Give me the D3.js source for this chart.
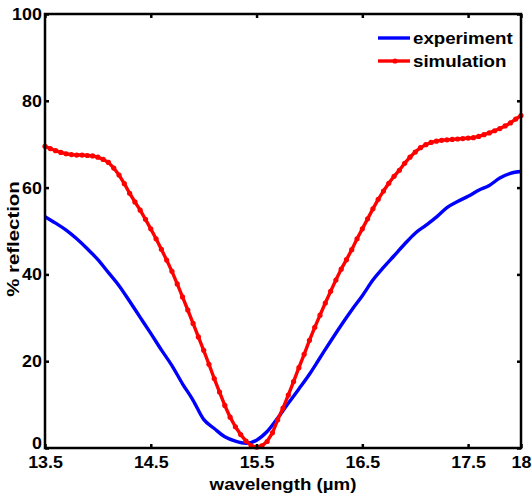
<!DOCTYPE html>
<html><head><meta charset="utf-8">
<script src="https://cdn.jsdelivr.net/npm/d3@7"></script>
<style>body{margin:0;background:#fff}svg{display:block}</style>
</head><body>
<svg id="c" width="532" height="498"></svg>
<script>
const xTicks = [13.5, 14.5, 15.5, 16.5, 17.5, 18];
const xTickLabels = ["13.5", "14.5", "15.5", "16.5", "17.5", "18"];
const yTicks = [0, 20, 40, 60, 80, 100];
const seriesNames = ["experiment", "simulation"];

const expWavelength = [13.5,13.6,13.7,13.8,13.9,14.0,14.1,14.2,14.3,14.4,14.5,14.6,14.7,14.8,14.9,15.0,15.1,15.2,15.3,15.4,15.5,15.6,15.7,15.8,15.9,16.0,16.1,16.2,16.3,16.4,16.5,16.6,16.7,16.8,16.9,17.0,17.1,17.2,17.3,17.4,17.5,17.6,17.7,17.8,17.9,18.0];
const expReflection = [53.3,51.8,50.2,48.2,45.9,43.4,40.4,37.4,33.8,30.1,26.4,22.6,19.0,14.8,11.0,6.6,4.5,2.6,1.6,1.1,1.8,3.8,6.9,10.3,13.6,17.0,20.8,24.6,28.3,31.8,35.1,38.7,41.6,44.3,47.0,49.5,51.3,53.2,55.4,56.8,58.0,59.4,60.5,62.2,63.3,63.7];

const simWavelength = [13.50,13.55,13.60,13.65,13.70,13.75,13.80,13.85,13.90,13.95,14.00,14.05,14.10,14.15,14.20,14.25,14.30,14.35,14.40,14.45,14.50,14.55,14.60,14.65,14.70,14.75,14.80,14.85,14.90,14.95,15.00,15.05,15.10,15.15,15.20,15.25,15.30,15.35,15.40,15.45,15.50,15.55,15.60,15.65,15.70,15.75,15.80,15.85,15.90,15.95,16.00,16.05,16.10,16.15,16.20,16.25,16.30,16.35,16.40,16.45,16.50,16.55,16.60,16.65,16.70,16.75,16.80,16.85,16.90,16.95,17.00,17.05,17.10,17.15,17.20,17.25,17.30,17.35,17.40,17.45,17.50,17.55,17.60,17.65,17.70,17.75,17.80,17.85,17.90,17.95,18.00];
const simReflection = [69.5,69.0,68.5,68.1,67.8,67.6,67.5,67.5,67.4,67.3,67.0,66.5,65.8,64.5,62.9,60.9,58.7,56.7,54.8,52.7,50.5,48.2,45.8,43.3,40.7,37.8,34.8,31.8,28.7,25.6,22.5,19.3,16.0,12.9,9.8,7.1,4.9,3.1,1.6,0.5,0.2,0.5,1.5,3.5,6.5,9.2,12.2,15.3,18.5,21.6,24.8,27.8,30.6,33.4,36.1,38.7,41.2,43.4,45.7,48.2,50.5,52.8,55.1,57.3,59.2,61.0,62.6,64.0,65.6,67.0,68.2,69.2,69.9,70.4,70.7,70.9,71.0,71.1,71.2,71.3,71.4,71.5,71.8,72.2,72.6,73.1,73.6,74.2,74.9,75.8,76.6];

const L = 45, R = 521, T = 14, B = 448;
const FONT = "'Liberation Sans', Arial, sans-serif";
const FS = 17;
const svg = d3.select("#c");
const x = d3.scaleLinear().domain([13.5, 18]).range([L, R]);
const y = d3.scaleLinear().domain([0, 100]).range([B, T]);

const expData = expWavelength.map((w, i) => [w, expReflection[i]]);
const simData = simWavelength.map((w, i) => [w, simReflection[i]]);

const plot = svg.append("g");
plot.append("path").datum(expData)
  .attr("fill", "none").attr("stroke", "#0000ff").attr("stroke-width", 3.4)
  .attr("stroke-linejoin", "round")
  .attr("d", d3.line().x(d => x(d[0])).y(d => y(d[1])).curve(d3.curveMonotoneX));
plot.append("path").datum(simData)
  .attr("fill", "none").attr("stroke", "#ff0000").attr("stroke-width", 3.4)
  .attr("stroke-linejoin", "round")
  .attr("d", d3.line().x(d => x(d[0])).y(d => y(d[1])));
plot.selectAll("circle.m").data(simData).enter().append("circle")
  .attr("class", "m").attr("cx", d => x(d[0])).attr("cy", d => y(d[1]))
  .attr("r", 2.6).attr("fill", "#ff0000");

function styleAxis(g) {
  g.select(".domain").remove();
  g.selectAll("line").attr("stroke", "#000").attr("stroke-width", 2.5);
  g.selectAll("text").attr("font-family", FONT).attr("font-size", FS)
    .attr("font-weight", "bold").attr("fill", "#000");
}
svg.append("g").attr("transform", `translate(0,${B})`)
  .call(d3.axisBottom(x).tickValues(xTicks).tickFormat((d, i) => xTickLabels[i]).tickSize(-4).tickPadding(8))
  .call(styleAxis)
  .call(g => g.selectAll("text").attr("transform", "scale(1.05,1)"));
svg.append("g").attr("transform", `translate(0,${T})`)
  .call(d3.axisTop(x).tickValues(xTicks).tickFormat("").tickSize(-4))
  .call(styleAxis);
svg.append("g").attr("transform", `translate(${L},0)`)
  .call(d3.axisLeft(y).tickValues(yTicks).tickSize(-4).tickPadding(3))
  .call(styleAxis)
  .call(g => g.selectAll("text").attr("transform", "scale(1.05,1)")
    .attr("dy", d => d === 0 ? "0.05em" : "0.32em"));
svg.append("g").attr("transform", `translate(${R},0)`)
  .call(d3.axisRight(y).tickValues(yTicks).tickFormat("").tickSize(-4))
  .call(styleAxis);

svg.append("rect").attr("x", L).attr("y", T).attr("width", R - L).attr("height", B - T)
  .attr("fill", "none").attr("stroke", "#000").attr("stroke-width", 2.5);

svg.append("text").attr("transform", `translate(${(L + R) / 2},490) scale(1.1,1)`)
  .attr("text-anchor", "middle")
  .attr("font-family", FONT).attr("font-size", FS).attr("font-weight", "bold")
  .text("wavelength (µm)");
svg.append("text").attr("transform", `translate(19,${(T + B) / 2 + 8}) rotate(-90) scale(1.2,1)`)
  .attr("text-anchor", "middle")
  .attr("font-family", FONT).attr("font-size", FS).attr("font-weight", "bold")
  .text("% reflection");

const colors = ["#0000ff", "#ff0000"];
const legend = svg.append("g");
seriesNames.forEach((name, i) => {
  const ly = 38 + i * 23;
  legend.append("line").attr("x1", 378).attr("x2", 410).attr("y1", ly).attr("y2", ly)
    .attr("stroke", colors[i]).attr("stroke-width", 3.4);
  if (i === 1) legend.append("circle").attr("cx", 395).attr("cy", ly).attr("r", 2.6).attr("fill", colors[i]);
  legend.append("text").attr("transform", `translate(413,${ly + 6}) scale(1.1,1)`)
    .attr("font-family", FONT).attr("font-size", FS).attr("font-weight", "bold")
    .text(name);
});
</script>
</body></html>
